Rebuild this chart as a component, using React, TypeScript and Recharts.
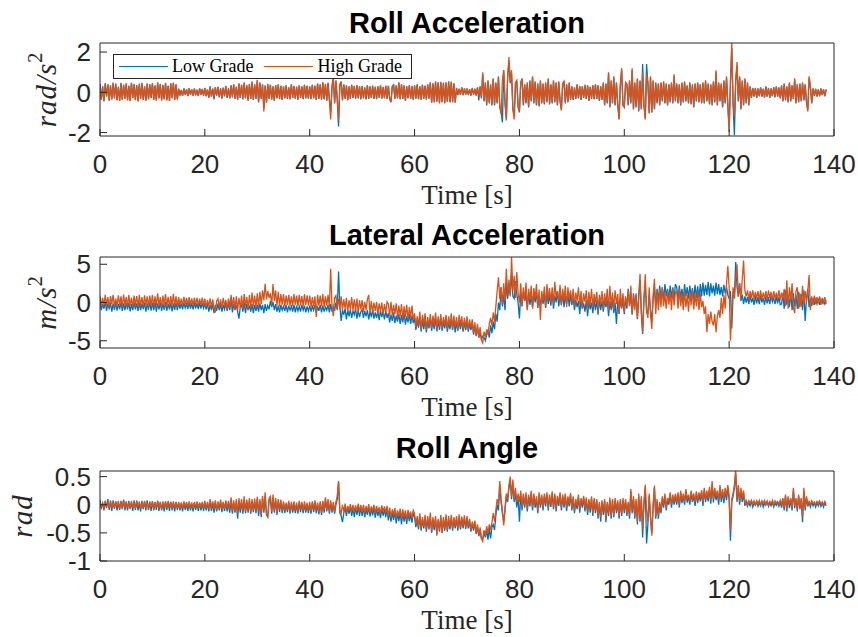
import React from 'react';
import { LineChart, Line, XAxis, YAxis, Legend } from 'recharts';

// samples are 0.25 s apart, t = 0 ... 138.5 s (one row = 5 s)
const SAMPLE_STEP = 0.25;
const timeTicks = [0, 20, 40, 60, 80, 100, 120, 140];

const rollAccTicks = [-2, 0, 2];
const latAccTicks = [-5, 0, 5];
const rollAngTicks = [-1, -0.5, 0, 0.5];

const rollAccLow = [
  0.4, -0.36, 0.28, -0.43, 0.44, -0.22, 0.38, -0.4, 0.33, -0.35, 0.45, -0.28, 0.42, -0.38, 0.27, -0.41, 0.45, -0.35, 0.36, -0.3,
  0.43, -0.38, 0.31, -0.42, 0.46, -0.27, 0.39, -0.37, 0.34, -0.43, 0.41, -0.31, 0.45, -0.36, 0.28, -0.4, 0.42, -0.34, 0.38, -0.28,
  0.44, -0.36, 0.33, -0.4, 0.47, -0.29, 0.4, -0.39, 0.35, -0.33, 0.45, -0.38, 0.31, -0.41, 0.43, -0.28, 0.46, -0.37, 0.38, -0.34,
  0.17, -0.16, 0.11, -0.18, 0.19, -0.12, 0.15, -0.19, 0.2, -0.13, 0.14, -0.17, 0.18, -0.15, 0.12, -0.19, 0.19, -0.12, 0.16, -0.17,
  0.2, -0.2, 0.14, -0.28, 0.28, -0.22, 0.17, -0.35, 0.24, -0.17, 0.26, -0.25, 0.19, -0.32, 0.22, -0.2, 0.3, -0.28, 0.18, -0.3,
  0.33, -0.25, 0.38, -0.33, 0.26, -0.37, 0.42, -0.28, 0.36, -0.35, 0.46, -0.3, 0.34, -0.42, 0.4, -0.33, 0.5, -0.38, 0.38, -0.33,
  0.58, -0.5, 0.45, -0.33, 0.38, -0.8, 0.33, -0.52, 0.4, -0.33, 0.36, -0.37, 0.28, -0.42, 0.34, -0.3, 0.38, -0.34, 0.31, -0.38,
  0.28, -0.3, 0.34, -0.33, 0.23, -0.35, 0.38, -0.28, 0.3, -0.32, 0.26, -0.37, 0.33, -0.28, 0.28, -0.34, 0.36, -0.3, 0.31, -0.32,
  0.28, -0.34, 0.36, -0.3, 0.32, -0.38, 0.42, -0.33, 0.38, -0.37, 0.48, -0.35, 0.4, -0.42, 0.45, -0.38, -1.0, 0.28, 0.7, -0.55,
  0.55, -0.35, -1.7, 0.35, 0.5, -0.4, 0.38, -0.33, 0.33, -0.4, 0.28, -0.33, 0.36, -0.28, 0.3, -0.32, 0.34, -0.3, 0.28, -0.35,
  0.3, -0.3, 0.23, -0.35, 0.34, -0.33, 0.28, -0.28, 0.32, -0.33, 0.26, -0.34, 0.28, -0.28, 0.34, -0.32, 0.25, -0.3, 0.31, -0.33,
  0.31, -0.33, -0.5, 0.28, 0.36, -0.33, 0.33, -0.3, 0.47, -0.35, 0.38, -0.33, 0.33, -0.42, 0.28, -0.3, 0.34, -0.33, 0.3, -0.38,
  0.33, -0.32, 0.38, -0.35, 0.28, -0.38, 0.36, -0.32, 0.32, -0.37, 0.38, -0.32, 0.48, -0.5, 0.43, -0.48, 0.52, -0.47, 0.48, -0.52,
  0.5, -0.48, 0.46, -0.52, 0.48, -0.47, 0.52, -0.5, 0.5, -0.48, 0.43, -0.5, 0.2, -0.14, 0.16, -0.12, 0.23, -0.15, 0.18, -0.12,
  0.18, -0.14, 0.14, -0.17, 0.2, -0.12, 0.16, -0.16, 0.23, -0.4, 0.28, -0.3, 0.9, -0.45, 0.45, -0.65, 0.55, -0.55, 0.38, -0.65,
  0.65, -0.65, 0.45, -0.55, 0.75, -0.75, -0.9, -1.5, 1.1, -0.5, -1.3, 0.7, 1.5, 0.45, 0.9, -0.85, -1.2, 0.45, 0.5, -0.75,
  -1.0, 0.45, 0.65, -0.65, 0.38, -0.55, 0.45, -0.75, 0.55, -0.45, 0.75, -0.55, 0.5, -0.65, 0.4, -0.7, 0.55, -0.55, 0.4, -0.6,
  0.45, -0.5, 0.65, -0.6, 0.38, -0.55, 0.55, -0.5, 0.45, -0.65, 0.5, -0.45, -0.85, 0.4, 0.5, -0.55, 0.38, -0.5, 0.45, -0.38,
  0.28, -0.38, 0.23, -0.33, 0.38, -0.3, 0.3, -0.38, 0.28, -0.28, 0.35, -0.33, 0.33, -0.43, 0.26, -0.33, 0.33, -0.35, 0.38, -0.33,
  0.33, -0.43, 0.28, -0.38, 0.45, -0.65, 0.4, -0.55, 0.95, -0.75, 0.55, -0.55, 0.75, -0.65, 0.45, -0.6, -1.35, 0.38, 1.1, -0.65,
  -0.75, 0.45, 0.38, -0.65, 0.55, -0.55, 1.1, -0.85, 0.45, -0.75, 0.65, -0.95, 0.55, -0.85, 1.4, -0.65, -1.3, 1.4, 0.45, -1.05,
  0.75, -1.0, 0.55, -0.85, 0.45, -0.55, 0.4, -0.65, 0.45, -0.45, 0.5, -0.55, 0.4, -0.65, 0.38, -0.5, 0.45, -0.55, 0.8, -0.45,
  0.4, -0.55, 0.38, -0.65, 0.45, -0.5, 0.5, -0.45, 0.33, -0.55, 0.45, -0.6, 0.38, -0.75, 0.4, -0.45, 0.45, -0.5, 0.38, -0.55,
  0.45, -0.55, 0.55, -0.45, 0.4, -0.6, 0.38, -0.65, 0.5, -0.5, 1.0, -0.65, 0.45, -0.45, 0.4, -0.75, 0.55, -0.55, 0.7, -0.65,
  -1.8, 0.45, 2.2, -0.6, -2.13, 0.55, 1.3, -0.45, 0.75, -0.85, 0.55, -0.65, 0.65, -0.55, 0.45, -0.65, 0.28, -0.28, 0.2, -0.22,
  0.2, -0.28, 0.18, -0.2, 0.23, -0.22, 0.16, -0.26, 0.28, -0.22, 0.2, -0.28, 0.18, -0.2, 0.24, -0.25, 0.28, -0.22, 0.23, -0.3,
  0.33, -0.45, 0.4, -0.4, 0.28, -0.5, 0.45, -0.45, 0.33, -0.33, 0.6, -0.55, 0.38, -0.5, 0.4, -0.45, 0.45, -0.4, 0.38, -0.5,
  -0.85, 0.7, 0.28, -0.55, 0.18, -0.18, 0.16, -0.22, 0.13, -0.2, 0.18, -0.14, 0.14, -0.2, 0.13,
];

const rollAccHigh = [
  0.42, -0.38, 0.3, -0.45, 0.46, -0.2, 0.4, -0.41, 0.35, -0.36, 0.48, -0.3, 0.44, -0.4, 0.25, -0.43, 0.47, -0.37, 0.38, -0.32,
  0.45, -0.4, 0.33, -0.44, 0.49, -0.28, 0.41, -0.39, 0.36, -0.45, 0.43, -0.33, 0.47, -0.38, 0.3, -0.42, 0.44, -0.36, 0.4, -0.29,
  0.46, -0.38, 0.35, -0.42, 0.5, -0.31, 0.42, -0.41, 0.37, -0.35, 0.47, -0.4, 0.33, -0.43, 0.45, -0.3, 0.48, -0.39, 0.4, -0.36,
  0.18, -0.15, 0.12, -0.17, 0.2, -0.1, 0.16, -0.18, 0.21, -0.12, 0.15, -0.16, 0.19, -0.14, 0.13, -0.18, 0.2, -0.11, 0.17, -0.16,
  0.22, -0.18, 0.15, -0.25, 0.3, -0.2, 0.18, -0.24, 0.26, -0.15, 0.28, -0.22, 0.2, -0.3, 0.24, -0.18, 0.32, -0.25, 0.2, -0.28,
  0.35, -0.22, 0.4, -0.3, 0.28, -0.35, 0.45, -0.25, 0.38, -0.32, 0.5, -0.28, 0.36, -0.4, 0.42, -0.3, 0.55, -0.35, 0.4, -0.3,
  0.62, -0.45, 0.5, -0.3, 0.4, -0.95, 0.35, -0.5, 0.42, -0.3, 0.38, -0.35, 0.3, -0.4, 0.36, -0.28, 0.4, -0.32, 0.33, -0.36,
  0.3, -0.28, 0.36, -0.3, 0.25, -0.33, 0.4, -0.25, 0.32, -0.3, 0.28, -0.35, 0.35, -0.26, 0.3, -0.32, 0.38, -0.28, 0.33, -0.3,
  0.3, -0.32, 0.38, -0.27, 0.34, -0.36, 0.45, -0.3, 0.4, -0.35, 0.5, -0.32, 0.42, -0.4, 0.48, -0.35, -1.35, 0.3, 0.8, -0.5,
  0.6, -0.3, -1.4, 0.4, 0.55, -0.35, 0.4, -0.3, 0.35, -0.38, 0.3, -0.3, 0.38, -0.25, 0.32, -0.3, 0.36, -0.27, 0.3, -0.33,
  0.32, -0.28, 0.25, -0.33, 0.36, -0.3, 0.3, -0.25, 0.34, -0.3, 0.28, -0.32, 0.3, -0.25, 0.36, -0.3, 0.27, -0.28, 0.33, -0.3,
  0.33, -0.3, -0.45, 0.3, 0.38, -0.3, 0.35, -0.28, 0.5, -0.32, 0.4, -0.3, 0.35, -0.4, 0.3, -0.28, 0.36, -0.3, 0.32, -0.35,
  0.35, -0.3, 0.4, -0.33, 0.3, -0.36, 0.38, -0.3, 0.34, -0.35, 0.4, -0.3, 0.5, -0.52, 0.45, -0.5, 0.55, -0.45, 0.5, -0.55,
  0.52, -0.5, 0.48, -0.55, 0.5, -0.45, 0.55, -0.48, 0.53, -0.5, 0.45, -0.52, 0.22, -0.12, 0.18, -0.1, 0.25, -0.13, 0.2, -0.1,
  0.2, -0.12, 0.16, -0.15, 0.22, -0.1, 0.18, -0.14, 0.25, -0.2, 0.3, -0.25, 1.0, -0.4, 0.5, -0.6, 0.6, -0.5, 0.4, -0.6,
  0.7, -0.6, 0.5, -0.5, 0.8, -0.7, -1.1, 0.6, 1.1, -0.5, -1.4, 0.8, 1.75, 0.5, 1.1, -0.8, -1.35, 0.5, 0.6, -0.7,
  -0.9, 0.5, 0.7, -0.6, 0.4, -0.5, 0.5, -0.7, 0.6, -0.4, 0.8, -0.5, 0.55, -0.6, 0.45, -0.65, 0.6, -0.5, 0.45, -0.55,
  0.5, -0.45, 0.7, -0.55, 0.4, -0.5, 0.6, -0.45, 0.5, -0.6, 0.55, -0.4, -0.9, 0.45, 0.55, -0.5, 0.4, -0.45, 0.5, -0.35,
  0.3, -0.35, 0.25, -0.3, 0.4, -0.28, 0.32, -0.35, 0.3, -0.25, 0.38, -0.3, 0.35, -0.4, 0.28, -0.3, 0.36, -0.32, 0.4, -0.3,
  0.35, -0.4, 0.3, -0.35, 0.5, -0.6, 0.45, -0.5, 1.0, -0.7, 0.6, -0.5, 0.8, -0.6, 0.5, -0.55, -1.3, 0.4, 1.2, -0.6,
  -0.7, 0.5, 0.4, -0.6, 0.6, -0.5, 1.2, -0.8, 0.5, -0.7, 0.7, -0.9, 0.6, -0.8, 1.0, -0.6, -1.35, 0.9, 0.5, -1.0,
  0.8, -1.0, 0.6, -0.8, 0.5, -0.5, 0.45, -0.6, 0.5, -0.4, 0.55, -0.5, 0.45, -0.6, 0.4, -0.45, 0.5, -0.5, 0.9, -0.4,
  0.45, -0.5, 0.4, -0.6, 0.5, -0.45, 0.55, -0.4, 0.35, -0.5, 0.5, -0.55, 0.4, -0.7, 0.45, -0.4, 0.5, -0.45, 0.4, -0.5,
  0.5, -0.5, 0.6, -0.4, 0.45, -0.55, 0.4, -0.6, 0.55, -0.45, 1.1, -0.6, 0.5, -0.4, 0.45, -0.7, 0.6, -0.5, 0.8, -0.6,
  -1.97, 0.5, 2.45, -0.5, -1.2, 0.6, 1.5, -0.4, 0.8, -0.8, 0.6, -0.6, 0.7, -0.5, 0.5, -0.6, 0.3, -0.25, 0.22, -0.2,
  0.22, -0.25, 0.2, -0.18, 0.25, -0.2, 0.18, -0.24, 0.3, -0.2, 0.22, -0.25, 0.2, -0.18, 0.26, -0.22, 0.3, -0.2, 0.25, -0.28,
  0.35, -0.4, 0.45, -0.35, 0.3, -0.45, 0.5, -0.4, 0.35, -0.3, 0.7, -0.5, 0.4, -0.45, 0.45, -0.4, 0.5, -0.35, 0.4, -0.45,
  -0.95, 0.8, 0.3, -0.5, 0.2, -0.15, 0.18, -0.2, 0.15, -0.18, 0.2, -0.12, 0.16, -0.18, 0.15,
];

const latAccLow = [
  0.0, -1.0, -0.2, -0.8, 0.05, -1.1, -0.1, -0.9, 0.0, -1.2, -0.15, -0.95, 0.05, -1.05, -0.2, -0.85, 0.0, -1.1, -0.1, -1.0,
  -0.05, -0.9, 0.0, -1.15, -0.2, -1.0, 0.05, -0.9, -0.1, -1.1, 0.0, -1.0, -0.15, -0.85, 0.0, -1.2, -0.1, -0.95, 0.05, -1.05,
  0.0, -1.0, 0.1, -1.2, -0.1, -0.9, 0.0, -1.1, -0.1, -0.95, 0.05, -1.05, -0.2, -0.9, 0.0, -1.15, -0.1, -0.95, 0.0, -1.0,
  0.0, -0.8, -0.1, -0.9, 0.0, -0.7, -0.15, -0.85, 0.05, -0.8, -0.1, -0.9, 0.0, -0.75, -0.1, -0.85, 0.0, -0.8, -0.05, -0.75,
  -0.2, -0.9, -0.1, -1.2, -0.3, -1.0, -0.2, -1.4, -0.3, -1.1, -0.1, -1.0, -0.2, -1.2, -0.3, -0.9, -0.2, -1.1, -0.1, -1.0,
  0.5, -1.3, -0.2, -1.0, -0.3, -1.2, -2.1, -0.6, -0.3, -1.2, 0.0, -1.4, -0.2, -1.0, -0.4, -1.2, -0.2, -1.4, -0.3, -1.1,
  -0.3, -1.2, -0.1, -1.0, -0.3, -1.4, -0.2, -1.1, -0.4, -0.9, 0.2, -0.6, 0.1, -1.0, -0.2, -1.2, -0.4, -1.3, -0.3, -1.0,
  -0.5, -1.1, -0.3, -1.3, -0.4, -1.0, -0.5, -1.2, -0.3, -1.3, -0.4, -1.1, -0.5, -1.2, -0.3, -1.0, -0.4, -1.3, -0.5, -1.1,
  -0.4, -1.2, -0.5, -1.0, -0.3, -1.4, -0.5, -1.1, -0.3, -1.3, -0.4, -1.2, -0.6, -1.0, -0.3, -1.3, -0.2, -1.2, -0.5, -1.1,
  0.0, -1.0, 4.05, -0.5, -2.4, -1.0, -1.6, -0.8, -2.2, -1.0, -1.8, -0.9, -2.0, -1.1, -1.6, -0.8, -2.1, -1.0, -1.9, -1.2,
  -0.9, -2.0, -1.1, -1.8, -1.0, -2.2, -1.2, -1.9, -0.9, -2.1, -1.3, -2.0, -1.1, -2.3, -1.0, -1.9, -1.2, -2.2, -1.1, -2.0,
  -1.4, -2.6, -1.6, -2.4, -1.3, -2.7, -1.7, -2.5, -1.5, -2.8, -1.6, -2.6, -1.4, -2.9, -1.8, -2.6, -1.5, -2.8, -1.7, -2.7,
  -2.0, -3.6, -2.4, -3.3, -1.9, -3.8, -2.3, -3.5, -2.2, -3.9, -2.5, -3.4, -2.1, -3.7, -2.4, -3.5, -2.0, -3.8, -2.3, -3.6,
  -2.1, -3.7, -2.5, -3.4, -2.2, -3.8, -2.6, -3.5, -2.3, -3.6, -2.2, -3.9, -2.5, -3.7, -2.4, -3.5, -2.3, -3.8, -2.6, -3.6,
  -2.5, -3.8, -2.8, -3.6, -2.7, -4.2, -3.0, -4.4, -3.2, -4.6, -3.8, -4.8, -4.4, -4.6, -5.0, -4.2, -3.6, -4.6, -3.0, -4.0,
  -2.5, -3.5, -1.5, -2.5, 0.0, -1.0, 2.0, -0.5, 1.0, -1.0, 2.5, 0.5, 2.0, 1.0, 3.8, 0.8, 0.5, 2.8, 1.0, 0.0,
  -2.1, 1.2, -0.5, 1.4, 0.2, 1.0, -0.8, 1.3, -0.3, 0.9, -0.6, 1.2, 0.0, 1.4, -0.7, 0.8, -0.4, 1.1, -0.2, 1.0,
  -0.7, 1.2, -0.2, 1.0, -0.4, 1.3, -0.8, 0.9, 0.0, 1.4, -0.5, 1.0, -0.3, 1.2, -0.6, 0.9, -0.2, 1.1, -0.5, 1.0,
  -0.3, 0.6, -1.0, 0.3, -0.6, 0.2, -1.5, 0.4, -0.8, -0.1, -1.2, 0.3, -1.8, 0.2, -0.9, 0.0, -1.4, 0.4, -1.0, 0.3,
  -1.6, 0.5, -1.0, 0.2, -1.2, 0.3, -0.6, 0.4, -1.8, 0.2, -1.0, 0.3, -1.4, 0.0, -2.8, 0.2, -1.5, 0.5, -0.8, 0.3,
  -1.5, 0.6, -0.8, 1.8, -0.4, 1.0, -1.6, 1.2, -0.5, 1.0, -2.2, 0.8, 3.0, -1.5, -4.1, 0.5, 2.5, -1.0, -1.5, 1.0,
  -1.0, -2.5, 0.5, 2.0, -0.5, 1.8, 0.2, 2.2, 0.5, 2.0, 0.3, 2.4, 0.8, 1.8, 0.4, 2.2, 0.6, 2.0, 0.5, 2.4,
  2.0, 0.4, 2.2, 0.6, 1.8, 0.3, 2.4, 0.8, 2.0, 0.5, 2.2, 0.7, 1.9, 0.4, 2.3, 0.6, 2.1, 0.5, 2.4, 0.8,
  2.6, 0.9, 2.3, 1.0, 2.7, 0.8, 2.5, 1.2, 2.2, 0.9, 2.6, 1.1, 2.4, 1.0, 2.0, 0.8, 2.3, 1.2, 2.0, 1.0,
  0.5, 1.5, -3.4, 1.0, 0.8, 5.3, 2.0, 0.8, 2.5, 0.2, 1.0, -0.2, 0.8, 0.0, 0.7, -0.2, 0.9, 0.0, 0.6, -0.3,
  0.8, -0.1, 0.7, -0.2, 0.9, 0.0, 0.6, -0.3, 0.8, -0.1, 0.7, -0.2, 0.9, 0.1, 0.6, -0.2, 0.8, -0.1, 0.7, -0.3,
  -0.2, 1.2, -0.8, 1.6, -0.3, 1.0, -0.6, 1.4, -1.0, 1.2, -0.5, 1.0, -0.8, 1.4, -0.6, 1.1, -1.0, 1.6, -2.4, 0.5,
  1.8, -0.6, 0.5, -0.4, 0.6, -0.3, 0.4, -0.2, 0.5, -0.3, 0.4, -0.1, 0.3, -0.2, 0.3,
];

const latAccHigh = [
  0.9, -0.5, 0.6, -0.3, 1.0, -0.4, 0.7, -0.6, 0.85, -0.2, 1.0, -0.55, 0.5, -0.45, 0.95, -0.3, 0.8, -0.6, 1.05, -0.35,
  0.75, -0.5, 1.0, -0.4, 0.6, -0.55, 0.9, -0.3, 0.85, -0.6, 1.0, -0.45, 0.7, -0.5, 0.95, -0.35, 0.8, -0.55, 0.9, -0.4,
  1.0, -0.5, 0.8, -0.35, 1.2, -0.45, 0.7, -0.6, 0.9, -0.3, 1.1, -0.5, 0.75, -0.55, 0.85, -0.4, 1.15, -0.45, 0.8, -0.5,
  0.7, -0.3, 0.5, -0.4, 0.75, -0.2, 0.6, -0.35, 0.7, -0.3, 0.55, -0.4, 0.65, -0.25, 0.6, -0.35, 0.5, -0.3, 0.65, -0.35,
  0.5, -0.6, 0.3, -0.5, 0.55, -0.7, 0.4, -0.8, -1.3, 0.2, 0.5, -0.6, 0.4, -0.7, 0.6, -0.5, 0.35, -0.9, 0.5, -0.6,
  1.0, -0.6, 0.7, -0.9, 0.8, -1.0, 0.6, -0.7, 0.9, -0.8, 1.1, -0.5, 0.7, -0.9, 1.0, -0.7, 1.3, -0.5, 0.9, -0.6,
  1.2, -0.6, 1.4, -0.2, 1.6, 0.3, 2.45, 0.4, 1.5, 0.6, 1.2, -0.3, 2.4, 0.2, 1.6, -0.4, 1.4, -0.5, 1.1, -0.3,
  1.1, -0.5, 0.9, -0.3, 1.0, -0.45, 0.8, -0.5, 1.1, -0.3, 0.9, -0.45, 1.0, -0.4, 0.85, -0.5, 1.1, -0.35, 0.95, -0.4,
  0.9, -0.6, 0.7, -0.5, 0.8, -1.9, 1.0, -0.4, 0.9, -0.5, 1.1, -0.6, 0.8, -0.4, 1.0, -0.6, 4.4, -0.5, -1.8, 0.6,
  0.9, -0.7, 0.5, -0.9, 0.8, -1.0, 0.4, -0.8, 0.6, -1.2, 0.3, -0.9, 0.7, -1.0, 0.4, -1.1, 0.5, -1.3, 0.3, -0.9,
  0.3, -1.2, 0.1, -1.0, 0.4, 1.0, -1.4, 0.2, -1.3, 0.0, -1.1, 0.1, -1.5, -0.1, -1.2, 0.0, -1.6, -0.2, -1.3, 0.1,
  -0.2, -1.8, 0.1, -1.7, -0.3, -1.5, -0.1, -2.0, -0.4, -1.8, -0.2, -2.1, -0.5, -1.9, -0.3, -2.2, -0.6, -2.0, -0.4, -2.3,
  -1.4, -3.2, -1.8, -3.0, -1.2, -3.5, -1.6, -2.9, -1.4, -3.6, -1.9, -3.1, -1.5, -3.4, -1.7, -3.0, -1.3, -3.5, -1.8, -3.2,
  -1.5, -3.3, -1.9, -3.0, -1.6, -3.5, -1.8, -3.1, -1.4, -3.4, -1.7, -3.2, -1.9, -3.6, -1.6, -3.0, -1.8, -3.5, -2.0, -3.3,
  -1.8, -3.6, -2.2, -3.3, -2.2, -4.0, -2.6, -4.3, -2.8, -4.6, -3.2, -4.9, -5.3, -3.8, -4.5, -3.5, -4.2, -2.8, -2.0, -3.0,
  -1.3, -2.5, -0.5, 1.5, 3.3, 0.5, 2.0, -0.3, 2.5, 0.2, 4.4, 1.0, 3.0, 0.8, 5.9, 1.5, 3.5, 0.6, 4.0, 1.2,
  0.0, 2.5, -0.5, 2.0, 0.2, 2.6, -1.0, 1.8, 0.3, 2.2, -0.8, 1.9, 0.5, 2.4, -0.6, 1.7, -2.3, 1.5, 0.2, 2.1,
  -0.5, 2.4, 0.4, 1.9, 0.0, 2.0, -0.3, 2.7, 0.6, 1.5, 0.2, 2.3, -0.4, 1.8, 0.3, 2.2, -0.6, 2.0, 0.4, 1.6,
  0.0, 1.8, -0.5, 1.3, 0.2, 2.0, -0.3, 1.5, -0.8, 1.2, 0.1, 1.6, -1.0, 1.4, -0.4, 1.8, -0.6, 1.1, 0.0, 1.4,
  -1.2, 1.0, -0.2, 1.5, -0.8, 1.2, -0.3, 1.8, -1.0, 2.2, -0.5, 1.3, -0.9, 1.6, -0.2, 1.1, -1.5, 1.8, -0.7, 1.2,
  -1.2, 0.8, -0.4, 1.5, -0.5, 2.2, -1.5, 0.9, -1.0, 1.2, -2.0, 0.5, 3.75, -1.0, -3.9, 0.5, 3.7, -1.2, -2.0, 2.0,
  -1.5, -3.45, 1.0, 3.1, -1.5, 1.5, -1.0, 1.8, -0.6, 2.0, -0.5, 1.2, -0.8, 1.6, -0.3, 1.4, -1.0, 1.8, -0.4, 1.3,
  1.5, -0.8, 1.8, -0.5, 1.2, -1.0, 1.6, -0.6, 1.0, -1.2, 1.4, -0.4, 1.7, -0.9, 1.1, -0.5, 1.5, -1.0, 1.2, -0.6,
  0.2, -1.5, -0.5, -3.9, -1.5, -2.8, -1.2, -2.5, -3.0, -1.5, -3.9, -1.8, -1.0, -2.0, 0.6, -1.5, 1.0, -0.8, 2.5, 4.8,
  2.0, -5.0, -1.0, 2.0, 0.5, 3.0, 5.0, 0.8, 2.5, 0.5, 3.0, 5.5, 1.5, 0.8, 1.6, 0.3, 1.5, 0.6, 1.6, 0.4,
  1.4, 0.5, 1.5, 0.3, 1.6, 0.4, 1.3, 0.5, 1.5, 0.3, 1.6, 0.6, 1.4, 0.3, 1.5, 0.5, 1.3, 0.4, 1.6, 0.3,
  1.3, 0.4, 1.8, -0.5, 2.9, -0.8, 2.0, 0.3, 2.5, -0.6, -1.4, 1.5, 2.0, -0.8, 1.2, -0.5, 2.2, -0.3, 1.5, 0.0,
  1.5, 3.6, -1.0, 0.8, -0.3, 0.9, -0.2, 0.7, -0.1, 0.8, -0.3, 0.6, 0.0, 0.7, -0.2,
];

const rollAngLow = [
  0.09, -0.08, 0.04, -0.1, 0.07, -0.06, 0.1, -0.09, 0.05, -0.11, 0.08, -0.07, 0.06, -0.1, 0.03, -0.09, 0.07, -0.08, 0.09, -0.1,
  0.05, -0.1, 0.07, -0.08, 0.04, -0.11, 0.08, -0.09, 0.06, -0.1, 0.03, -0.12, 0.07, -0.08, 0.05, -0.1, 0.08, -0.09, 0.04, -0.11,
  0.06, -0.1, 0.04, -0.09, 0.07, -0.11, 0.05, -0.1, 0.03, -0.12, 0.06, -0.09, 0.04, -0.11, 0.05, -0.1, 0.03, -0.12, 0.05, -0.09,
  0.03, -0.1, 0.02, -0.12, 0.04, -0.09, 0.02, -0.11, 0.03, -0.1, 0.01, -0.12, 0.03, -0.09, 0.02, -0.11, 0.03, -0.1, 0.02, -0.11,
  0.03, -0.1, 0.02, -0.12, 0.05, -0.11, 0.03, -0.14, 0.04, -0.12, 0.02, -0.1, 0.05, -0.13, 0.03, -0.11, 0.04, -0.12, 0.02, -0.14,
  0.06, -0.16, 0.03, -0.14, 0.05, -0.25, 0.06, -0.14, 0.04, -0.16, 0.08, -0.15, 0.05, -0.14, 0.07, -0.16, 0.06, -0.13, 0.05, -0.15,
  0.1, -0.2, 0.06, -0.22, 0.12, -0.14, 0.15, -0.18, -0.22, 0.08, 0.1, -0.16, 0.12, -0.14, 0.08, -0.18, 0.06, -0.13, 0.05, -0.15,
  0.02, -0.15, 0.01, -0.13, 0.03, -0.16, 0.02, -0.14, 0.01, -0.15, 0.0, -0.16, 0.03, -0.13, 0.02, -0.15, 0.01, -0.14, 0.0, -0.15,
  0.0, -0.16, 0.03, -0.13, 0.02, -0.15, 0.0, -0.17, 0.03, -0.18, 0.02, -0.14, 0.08, -0.12, 0.05, -0.16, 0.03, -0.14, 0.0, -0.16,
  0.0, 0.1, 0.4, -0.15, -0.2, -0.31, -0.15, -0.05, -0.2, -0.06, -0.16, -0.04, -0.2, -0.06, -0.22, -0.05, -0.18, -0.04, -0.2, -0.05,
  -0.2, -0.05, -0.22, -0.08, -0.18, -0.04, -0.21, -0.07, -0.19, -0.05, -0.23, -0.07, -0.2, -0.09, -0.24, -0.06, -0.2, -0.08, -0.22, -0.07,
  -0.28, -0.12, -0.3, -0.14, -0.27, -0.12, -0.33, -0.15, -0.29, -0.13, -0.35, -0.14, -0.3, -0.16, -0.34, -0.15, -0.29, -0.17, -0.32, -0.15,
  -0.22, -0.4, -0.26, -0.44, -0.2, -0.46, -0.27, -0.42, -0.24, -0.48, -0.25, -0.44, -0.2, -0.5, -0.27, -0.45, -0.25, -0.52, -0.28, -0.48,
  -0.23, -0.5, -0.27, -0.46, -0.22, -0.48, -0.26, -0.44, -0.24, -0.46, -0.27, -0.42, -0.25, -0.46, -0.22, -0.44, -0.26, -0.42, -0.24, -0.43,
  -0.25, -0.42, -0.3, -0.48, -0.34, -0.46, -0.32, -0.52, -0.4, -0.56, -0.45, -0.6, -0.6, -0.5, -0.58, -0.45, -0.62, -0.42, -0.6, -0.4,
  -0.35, -0.45, -0.2, 0.0, -0.1, 0.35, 0.05, -0.15, -0.3, -0.1, 0.15, 0.05, 0.3, 0.42, 0.1, 0.38, 0.05, 0.2, -0.05, 0.15,
  -0.3, 0.2, -0.1, 0.15, -0.05, 0.18, -0.12, 0.14, -0.03, 0.2, -0.1, 0.15, -0.05, 0.1, -0.15, 0.18, -0.05, 0.14, -0.1, 0.15,
  -0.03, 0.18, -0.1, 0.14, -0.04, 0.2, -0.08, 0.16, -0.12, 0.12, -0.02, 0.18, -0.1, 0.14, -0.05, 0.16, -0.11, 0.1, -0.03, 0.17,
  -0.1, 0.1, -0.15, 0.06, -0.08, 0.13, -0.14, 0.08, -0.05, 0.12, -0.12, 0.09, -0.18, 0.06, -0.14, 0.1, -0.2, 0.08, -0.15, 0.06,
  -0.25, 0.02, -0.3, 0.05, -0.18, 0.06, -0.31, 0.02, -0.2, 0.08, -0.25, 0.06, -0.22, 0.08, -0.15, 0.04, -0.25, 0.06, -0.2, 0.08,
  -0.15, 0.06, -0.2, 0.02, -0.25, 0.24, -0.15, 0.1, -0.25, 0.06, -0.35, 0.15, -0.3, 0.1, -0.58, 0.0, 0.3, -0.69, -0.35, 0.15,
  -0.25, -0.5, -0.05, 0.3, -0.25, 0.05, -0.25, 0.0, -0.15, 0.1, -0.05, 0.15, -0.1, 0.08, 0.0, 0.18, -0.05, 0.14, 0.0, 0.15,
  0.0, 0.18, -0.05, 0.2, 0.03, 0.15, 0.0, 0.22, 0.04, 0.14, 0.0, 0.2, 0.05, 0.15, -0.02, 0.2, 0.03, 0.18, 0.06, 0.22,
  -0.02, 0.25, 0.05, 0.2, 0.06, 0.27, 0.02, 0.35, 0.04, 0.25, 0.08, 0.2, 0.0, 0.3, 0.05, 0.22, 0.03, 0.25, 0.08, 0.3,
  0.1, -0.64, 0.05, 0.15, 0.3, 0.55, 0.05, 0.3, 0.0, 0.25, 0.05, 0.2, -0.02, 0.05, -0.03, 0.04, -0.02, 0.06, -0.04, 0.03,
  -0.01, 0.05, -0.03, 0.04, -0.02, 0.06, -0.04, 0.03, -0.01, 0.05, -0.03, 0.04, -0.02, 0.05, -0.04, 0.03, -0.01, 0.04, -0.03, 0.05,
  -0.05, 0.1, -0.1, 0.15, -0.12, 0.12, -0.06, 0.1, -0.1, 0.25, -0.06, 0.1, -0.12, 0.15, -0.08, 0.1, -0.31, 0.25, -0.1, 0.12,
  -0.03, 0.04, -0.04, 0.05, -0.02, 0.03, -0.04, 0.04, -0.02, 0.05, -0.03, 0.03, -0.04, 0.04, -0.02,
];

const rollAngHigh = [
  0.06, -0.05, 0.03, -0.07, 0.07, -0.04, 0.05, -0.06, 0.08, -0.05, 0.04, -0.07, 0.06, -0.04, 0.07, -0.06, 0.05, -0.07, 0.08, -0.05,
  0.06, -0.06, 0.04, -0.07, 0.07, -0.05, 0.05, -0.06, 0.08, -0.04, 0.06, -0.07, 0.05, -0.05, 0.07, -0.06, 0.04, -0.07, 0.06, -0.05,
  0.06, -0.07, 0.05, -0.05, 0.07, -0.06, 0.04, -0.08, 0.06, -0.05, 0.05, -0.06, 0.07, -0.04, 0.05, -0.07, 0.06, -0.05, 0.04, -0.06,
  0.05, -0.06, 0.04, -0.07, 0.06, -0.04, 0.05, -0.05, 0.06, -0.06, 0.04, -0.07, 0.05, -0.05, 0.06, -0.06, 0.04, -0.05, 0.05, -0.06,
  0.07, -0.06, 0.05, -0.08, 0.1, -0.05, 0.06, -0.07, 0.08, -0.09, 0.06, -0.06, 0.09, -0.08, 0.05, -0.07, 0.08, -0.06, 0.07, -0.08,
  0.13, -0.1, 0.08, -0.12, 0.1, -0.15, 0.12, -0.08, 0.1, -0.11, 0.15, -0.12, 0.09, -0.1, 0.12, -0.13, 0.1, -0.09, 0.11, -0.1,
  0.14, -0.12, 0.1, -0.18, 0.16, -0.1, 0.22, -0.15, -0.22, 0.12, 0.15, -0.12, 0.18, -0.1, 0.12, -0.14, 0.1, -0.08, 0.09, -0.1,
  0.06, -0.1, 0.04, -0.08, 0.07, -0.12, 0.05, -0.09, 0.06, -0.1, 0.04, -0.11, 0.07, -0.08, 0.05, -0.1, 0.06, -0.09, 0.04, -0.1,
  0.05, -0.12, 0.06, -0.08, 0.08, -0.1, 0.04, -0.13, 0.06, -0.14, 0.07, -0.09, 0.13, -0.08, 0.1, -0.12, 0.08, -0.1, 0.05, -0.12,
  0.05, 0.15, 0.42, -0.1, -0.15, 0.0, -0.12, 0.02, -0.14, -0.02, -0.1, 0.01, -0.12, 0.0, -0.13, -0.01, -0.11, 0.02, -0.12, 0.0,
  -0.13, 0.0, -0.15, -0.02, -0.12, 0.01, -0.14, -0.03, -0.11, 0.0, -0.15, -0.02, -0.13, -0.04, -0.16, -0.01, -0.12, -0.03, -0.14, -0.02,
  -0.2, -0.05, -0.22, -0.08, -0.18, -0.06, -0.24, -0.1, -0.2, -0.07, -0.25, -0.08, -0.22, -0.1, -0.27, -0.09, -0.21, -0.12, -0.24, -0.1,
  -0.16, -0.35, -0.2, -0.4, -0.15, -0.42, -0.22, -0.38, -0.18, -0.44, -0.2, -0.4, -0.14, -0.48, -0.22, -0.4, -0.2, -0.55, -0.25, -0.45,
  -0.18, -0.5, -0.22, -0.42, -0.17, -0.45, -0.2, -0.4, -0.18, -0.42, -0.22, -0.38, -0.2, -0.42, -0.17, -0.4, -0.21, -0.38, -0.19, -0.4,
  -0.2, -0.38, -0.25, -0.45, -0.3, -0.42, -0.28, -0.5, -0.35, -0.55, -0.4, -0.6, -0.65, -0.45, -0.55, -0.38, -0.5, -0.35, -0.45, -0.32,
  -0.15, -0.3, -0.1, 0.1, 0.0, 0.42, 0.1, -0.1, -0.37, -0.05, 0.2, 0.1, 0.35, 0.5, 0.15, 0.45, 0.1, 0.3, 0.05, 0.2,
  0.05, 0.25, -0.05, 0.2, 0.0, 0.22, -0.08, 0.18, 0.02, 0.25, -0.05, 0.2, 0.0, 0.15, -0.1, 0.22, 0.0, 0.18, -0.05, 0.2,
  0.02, 0.22, -0.06, 0.18, 0.0, 0.24, -0.04, 0.2, -0.08, 0.16, 0.03, 0.22, -0.05, 0.18, 0.0, 0.2, -0.06, 0.15, 0.02, 0.21,
  -0.05, 0.15, -0.1, 0.1, -0.02, 0.18, -0.08, 0.12, 0.0, 0.16, -0.06, 0.13, -0.12, 0.1, -0.08, 0.15, -0.15, 0.12, -0.1, 0.1,
  -0.2, 0.05, -0.22, 0.08, -0.12, 0.1, -0.25, 0.05, -0.15, 0.13, -0.2, 0.1, -0.18, 0.12, -0.1, 0.08, -0.2, 0.1, -0.15, 0.12,
  -0.1, 0.1, -0.15, 0.05, -0.2, 0.28, -0.1, 0.15, -0.2, 0.1, -0.3, 0.2, -0.25, 0.15, -0.43, 0.05, 0.36, -0.1, -0.3, 0.2,
  -0.2, -0.55, 0.0, 0.34, -0.2, 0.1, -0.19, 0.05, -0.1, 0.15, 0.0, 0.2, -0.05, 0.12, 0.05, 0.22, 0.0, 0.18, 0.05, 0.2,
  0.05, 0.22, 0.0, 0.25, 0.08, 0.2, 0.05, 0.28, 0.1, 0.18, 0.06, 0.25, 0.1, 0.2, 0.04, 0.24, 0.08, 0.22, 0.12, 0.26,
  0.05, 0.3, 0.1, 0.25, 0.12, 0.32, 0.08, 0.42, 0.1, 0.3, 0.15, 0.25, 0.08, 0.35, 0.12, 0.28, 0.1, 0.3, 0.15, 0.35,
  0.15, -0.46, 0.1, 0.2, 0.35, 0.63, 0.1, 0.35, 0.05, 0.3, 0.12, 0.25, 0.02, 0.08, 0.0, 0.07, 0.03, 0.08, 0.01, 0.07,
  0.0, 0.07, 0.02, 0.08, 0.0, 0.06, 0.03, 0.08, 0.01, 0.07, 0.0, 0.06, 0.02, 0.08, 0.0, 0.07, 0.03, 0.06, 0.01, 0.08,
  0.0, 0.12, -0.05, 0.18, -0.08, 0.15, 0.0, 0.12, -0.05, 0.3, -0.02, 0.12, -0.08, 0.18, -0.05, 0.12, -0.22, 0.3, -0.05, 0.15,
  0.01, 0.06, 0.0, 0.07, 0.02, 0.05, 0.0, 0.06, 0.02, 0.07, 0.01, 0.05, 0.0, 0.06, 0.02,
];

const BLUE = '#0072BD';
const ORANGE = '#D95319';
const AXIS = '#262626';
const SANS = '"Liberation Sans", Arial, Helvetica, sans-serif';
const SERIF = '"Liberation Serif", "Times New Roman", serif';
const legendOrder = ['Low Grade', 'High Grade'];

const buildRows = (low: number[], high: number[]) =>
  low.map((v, i) => ({ t: i * SAMPLE_STEP, low: v, high: high[i] }));

// rotated y label, superscript drawn as a raised tspan
const YTitle = ({ viewBox, base, sup, cx }: any) => {
  const cy = viewBox.y + viewBox.height / 2;
  return (
    <text
      x={cx}
      y={cy}
      transform={`rotate(-90 ${cx} ${cy})`}
      textAnchor="middle"
      dominantBaseline="central"
      fontFamily={SERIF}
      fontStyle="italic"
      fontSize={29}
      letterSpacing={1}
      fill={AXIS}
    >
      {base}
      {sup && (
        <tspan dy={-11} fontSize={20} fontStyle="normal">
          {sup}
        </tspan>
      )}
    </text>
  );
};

const LegendBox = ({ payload }: any) => {
  const items = [...(payload || [])].sort(
    (a: any, b: any) => legendOrder.indexOf(a.value) - legendOrder.indexOf(b.value)
  );
  return (
    <div
      style={{
        display: 'flex',
        alignItems: 'center',
        boxSizing: 'border-box',
        width: 299,
        height: 25,
        paddingLeft: 5,
        border: `1px solid ${AXIS}`,
        background: '#fff',
        fontFamily: SERIF,
        fontSize: 18,
        color: '#000',
        whiteSpace: 'nowrap',
      }}
    >
      {items.map((entry: any, i: number) => (
        <span key={entry.value} style={{ display: 'flex', alignItems: 'center', marginRight: i === 0 ? 11 : 0 }}>
          <span style={{ width: 49, borderTop: `1.5px solid ${entry.color}`, marginRight: 4 }} />
          {entry.value}
        </span>
      ))}
    </div>
  );
};

interface PanelProps {
  title: string;
  low: number[];
  high: number[];
  domain: [number, number];
  yTicks: number[];
  top: number;
  marginTop: number;
  marginBottom: number;
  titleOffset: number;
  yBase: string;
  ySup?: string;
  yLabelX: number;
  showLegend?: boolean;
}

const Panel: React.FC<PanelProps> = ({
  title, low, high, domain, yTicks, top, marginTop, marginBottom, titleOffset, yBase, ySup, yLabelX, showLegend,
}) => {
  const data = buildRows(low, high);
  return (
    <div style={{ position: 'absolute', left: 0, top }}>
      <LineChart width={858} height={212} data={data} margin={{ top: marginTop - 1, right: 23, bottom: marginBottom, left: 40 }}>
        <XAxis
          xAxisId="b"
          dataKey="t"
          type="number"
          domain={[0, 140]}
          ticks={timeTicks}
          interval={0}
          allowDataOverflow
          height={30}
          stroke={AXIS}
          tickSize={-7}
          tickMargin={26}
          tick={{ fill: AXIS, fontSize: 26, fontFamily: SANS }}
          label={{ value: 'Time [s]', position: 'bottom', offset: 19, fill: AXIS, fontSize: 27, fontFamily: SERIF }}
        />
        <XAxis
          xAxisId="t"
          orientation="top"
          dataKey="t"
          type="number"
          domain={[0, 140]}
          ticks={timeTicks}
          interval={0}
          allowDataOverflow
          height={1}
          stroke={AXIS}
          tickSize={-7}
          tick={false}
          label={{
            value: title,
            position: 'top',
            offset: titleOffset - 1,
            fill: '#000',
            fontSize: 29,
            fontWeight: 'bold',
            fontFamily: SANS,
          }}
        />
        <YAxis
          yAxisId="l"
          type="number"
          domain={domain}
          ticks={yTicks}
          interval={0}
          allowDataOverflow
          width={60}
          stroke={AXIS}
          tickSize={-7}
          tickMargin={16}
          tick={{ fill: AXIS, fontSize: 26, fontFamily: SANS }}
          label={<YTitle base={yBase} sup={ySup} cx={yLabelX} />}
        />
        <YAxis
          yAxisId="r"
          orientation="right"
          type="number"
          domain={domain}
          ticks={yTicks}
          interval={0}
          allowDataOverflow
          width={1}
          stroke={AXIS}
          tickSize={-7}
          tick={false}
        />
        <Line
          xAxisId="b"
          yAxisId="l"
          type="linear"
          dataKey="low"
          name="Low Grade"
          stroke={BLUE}
          strokeWidth={1.3}
          dot={false}
          isAnimationActive={false}
        />
        <Line
          xAxisId="b"
          yAxisId="l"
          type="linear"
          dataKey="high"
          name="High Grade"
          stroke={ORANGE}
          strokeWidth={1.3}
          dot={false}
          isAnimationActive={false}
        />
        {showLegend && (
          <Legend
            layout="horizontal"
            verticalAlign="middle"
            align="center"
            wrapperStyle={{ left: 113, top: 54, width: 'auto', height: 'auto' }}
            content={LegendBox}
          />
        )}
      </LineChart>
    </div>
  );
};

export default function App() {
  return (
    <div style={{ position: 'absolute', left: 0, top: 0, width: 858, height: 637, background: '#fff' }}>
      <Panel
        title="Roll Acceleration"
        low={rollAccLow}
        high={rollAccHigh}
        domain={[-2.17, 2.45]}
        yTicks={rollAccTicks}
        top={0}
        marginTop={43}
        marginBottom={46}
        titleOffset={10}
        yBase="rad/s"
        ySup="2"
        yLabelX={46}
        showLegend
      />
      <Panel
        title="Lateral Acceleration"
        low={latAccLow}
        high={latAccHigh}
        domain={[-5.95, 5.95]}
        yTicks={latAccTicks}
        top={213}
        marginTop={44}
        marginBottom={47}
        titleOffset={12}
        yBase="m/s"
        ySup="2"
        yLabelX={46}
      />
      <Panel
        title="Roll Angle"
        low={rollAngLow}
        high={rollAngHigh}
        domain={[-1, 0.6]}
        yTicks={rollAngTicks}
        top={425}
        marginTop={46}
        marginBottom={46}
        titleOffset={13}
        yBase="rad"
        yLabelX={22}
      />
    </div>
  );
}
